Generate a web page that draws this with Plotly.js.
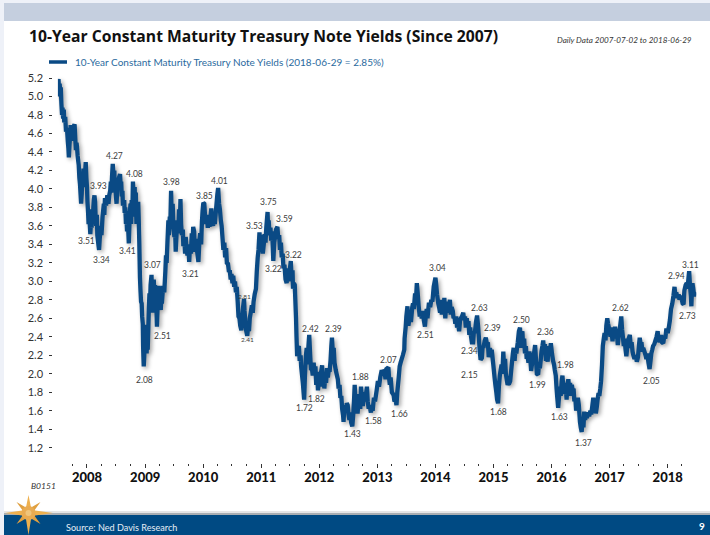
<!DOCTYPE html>
<html>
<head>
<meta charset="utf-8">
<script src="https://cdn.plot.ly/plotly-3.0.1.min.js"></script>
<style>html,body{margin:0;padding:0;background:#fff;overflow:hidden}#chart{width:710px;height:535px}</style>
</head>
<body>
<div id="chart"></div>
<script>
// Yield readings by calendar year: [fraction of year, yield in percent]
const y2007 = [[.50,5.00],[.505,5.12],[.51,5.19],[.52,5.05],[.53,5.14],[.54,5.03],[.55,5.10],[.56,4.92],[.57,4.80],[.58,4.88],[.59,4.76],[.60,4.86],[.61,4.72],[.625,4.78],[.64,4.62],[.655,4.66],[.67,4.52],[.68,4.44],[.69,4.34],[.70,4.48],[.71,4.58],[.72,4.69],[.73,4.52],[.745,4.62],[.76,4.55],[.775,4.68],[.787,4.70],[.80,4.52],[.81,4.42],[.82,4.50],[.83,4.46],[.84,4.36],[.85,4.30],[.86,4.26],[.87,4.12],[.88,4.05],[.89,3.96],[.90,3.84],[.91,3.95],[.92,4.10],[.93,4.02],[.94,4.22],[.95,4.14],[.96,4.02],[.97,4.20],[.98,4.29],[.99,4.12]];
const y2008 = [[.00,4.02],[.01,3.86],[.02,3.74],[.03,3.62],[.04,3.78],[.05,3.60],[.06,3.51],[.07,3.64],[.08,3.58],[.09,3.74],[.10,3.62],[.11,3.80],[.12,3.88],[.13,3.93],[.14,3.86],[.15,3.70],[.16,3.60],[.17,3.72],[.18,3.50],[.19,3.44],[.20,3.38],[.21,3.34],[.22,3.46],[.24,3.60],[.25,3.50],[.27,3.70],[.29,3.84],[.30,3.72],[.31,3.90],[.33,3.82],[.35,3.93],[.37,3.84],[.385,3.93],[.40,3.98],[.41,4.08],[.42,3.96],[.43,4.12],[.445,4.27],[.46,4.12],[.47,4.20],[.48,3.98],[.49,4.02],[.50,3.90],[.51,3.84],[.52,3.98],[.53,4.06],[.55,4.12],[.57,4.16],[.58,4.02],[.59,4.08],[.60,3.92],[.61,3.98],[.62,3.82],[.64,3.88],[.65,3.74],[.66,3.80],[.67,3.62],[.68,3.70],[.69,3.54],[.70,3.76],[.71,3.58],[.72,3.41],[.73,3.62],[.74,3.76],[.75,3.84],[.76,3.62],[.77,3.88],[.78,3.72],[.79,4.08],[.80,3.98],[.81,3.70],[.82,4.02],[.83,3.78],[.84,3.96],[.85,3.62],[.86,3.84],[.87,3.72],[.88,3.86],[.89,3.70],[.90,3.42],[.91,3.05],[.92,2.92],[.93,2.78],[.94,2.76],[.95,2.62],[.96,2.54],[.965,2.30],[.97,2.18],[.976,2.08],[.985,2.18],[.995,2.40]];
const y2009 = [[.005,2.53],[.015,2.30],[.025,2.22],[.035,2.36],[.045,2.26],[.056,2.51],[.065,2.70],[.075,2.87],[.085,2.78],[.095,2.96],[.11,3.07],[.12,2.78],[.125,2.66],[.135,2.86],[.15,3.02],[.16,2.82],[.17,2.96],[.18,2.74],[.19,2.84],[.205,2.51],[.215,2.72],[.225,2.90],[.235,2.95],[.25,2.80],[.27,2.69],[.28,2.84],[.29,2.76],[.31,2.95],[.33,2.88],[.35,3.11],[.36,3.28],[.37,3.20],[.385,3.42],[.40,3.66],[.41,3.50],[.425,3.70],[.435,3.60],[.447,3.98],[.46,3.70],[.475,3.84],[.49,3.58],[.505,3.48],[.52,3.52],[.527,3.32],[.54,3.50],[.555,3.66],[.57,3.52],[.585,3.78],[.60,3.68],[.61,3.89],[.62,3.62],[.635,3.50],[.65,3.56],[.66,3.38],[.675,3.48],[.69,3.30],[.70,3.48],[.715,3.36],[.73,3.28],[.745,3.40],[.76,3.21],[.775,3.40],[.79,3.30],[.805,3.52],[.82,3.44],[.83,3.59],[.845,3.54],[.86,3.32],[.875,3.46],[.89,3.36],[.905,3.28],[.92,3.21],[.935,3.44],[.95,3.52],[.965,3.40],[.98,3.64],[.99,3.76]];
const y2010 = [[.005,3.85],[.02,3.84],[.035,3.70],[.05,3.62],[.065,3.72],[.08,3.58],[.095,3.66],[.11,3.59],[.125,3.68],[.14,3.79],[.155,3.64],[.17,3.60],[.185,3.68],[.20,3.62],[.215,3.72],[.23,3.82],[.245,3.94],[.26,4.01],[.275,3.84],[.29,3.78],[.305,3.66],[.32,3.60],[.335,3.46],[.35,3.34],[.365,3.42],[.38,3.26],[.395,3.36],[.41,3.20],[.43,3.19],[.445,3.10],[.46,3.12],[.475,3.02],[.49,3.08],[.505,2.98],[.52,3.06],[.535,2.94],[.55,3.00],[.565,2.88],[.58,2.94],[.595,2.78],[.61,2.62],[.625,2.60],[.64,2.52],[.66,2.47],[.675,2.60],[.69,2.72],[.705,2.81],[.715,2.68],[.73,2.54],[.745,2.46],[.76,2.41],[.775,2.50],[.79,2.46],[.805,2.60],[.82,2.66],[.84,2.74],[.855,2.66],[.87,2.78],[.89,2.86],[.91,2.92],[.925,3.10],[.94,3.26],[.955,3.34],[.97,3.53],[.985,3.44]];
const y2011 = [[.00,3.36],[.015,3.50],[.03,3.30],[.045,3.40],[.06,3.51],[.075,3.42],[.09,3.58],[.11,3.75],[.12,3.58],[.13,3.66],[.145,3.50],[.16,3.58],[.175,3.44],[.19,3.54],[.21,3.22],[.225,3.42],[.24,3.48],[.255,3.56],[.28,3.59],[.295,3.46],[.31,3.50],[.325,3.34],[.34,3.42],[.355,3.26],[.37,3.30],[.385,3.14],[.40,3.18],[.42,3.02],[.44,2.98],[.455,3.14],[.47,3.00],[.49,3.10],[.51,3.22],[.525,3.04],[.54,3.12],[.55,2.92],[.565,2.98],[.58,2.96],[.60,2.60],[.61,2.40],[.62,2.19],[.635,2.28],[.65,2.30],[.665,2.14],[.68,2.20],[.69,2.08],[.705,1.98],[.72,1.90],[.74,1.72],[.755,1.98],[.77,2.19],[.785,2.28],[.80,2.10],[.815,2.30],[.83,2.42],[.845,2.20],[.86,2.04],[.875,2.06],[.89,1.98],[.905,2.12],[.92,2.00],[.935,2.08],[.95,1.88],[.965,2.02],[.98,1.82]];
const y2012 = [[.00,1.96],[.015,1.86],[.035,2.02],[.05,2.09],[.065,1.92],[.08,2.00],[.09,1.84],[.105,1.98],[.12,1.90],[.135,2.06],[.15,1.96],[.165,2.04],[.18,2.02],[.195,2.14],[.21,2.30],[.22,2.39],[.235,2.22],[.25,2.28],[.265,2.12],[.285,2.04],[.30,2.00],[.32,1.94],[.335,1.84],[.35,1.88],[.365,1.74],[.38,1.76],[.395,1.62],[.41,1.55],[.42,1.48],[.43,1.62],[.445,1.66],[.46,1.58],[.475,1.68],[.49,1.66],[.505,1.56],[.52,1.50],[.535,1.58],[.55,1.47],[.57,1.43],[.585,1.56],[.60,1.72],[.61,1.88],[.625,1.70],[.64,1.76],[.66,1.57],[.675,1.70],[.69,1.78],[.705,1.62],[.72,1.86],[.735,1.72],[.75,1.65],[.77,1.80],[.785,1.70],[.80,1.75],[.82,1.86],[.835,1.70],[.85,1.62],[.865,1.66],[.89,1.58],[.905,1.66],[.92,1.60],[.94,1.74],[.96,1.70],[.99,1.83]];
const y2013 = [[.01,1.92],[.03,1.86],[.05,1.96],[.075,2.04],[.09,1.98],[.10,2.04],[.125,2.02],[.14,1.94],[.155,2.05],[.19,2.07],[.20,1.96],[.215,1.88],[.23,1.96],[.25,1.80],[.28,1.77],[.295,1.70],[.315,1.72],[.33,1.66],[.345,1.80],[.365,1.94],[.385,2.08],[.40,2.12],[.42,2.16],[.44,2.20],[.465,2.26],[.47,2.38],[.49,2.51],[.50,2.62],[.52,2.73],[.535,2.52],[.55,2.58],[.565,2.62],[.58,2.56],[.60,2.72],[.615,2.76],[.63,2.70],[.65,2.87],[.665,2.78],[.68,2.98],[.695,2.88],[.71,2.74],[.73,2.62],[.75,2.66],[.765,2.60],[.78,2.68],[.80,2.58],[.82,2.51],[.835,2.62],[.85,2.70],[.865,2.60],[.89,2.77],[.91,2.72],[.93,2.80],[.95,2.78],[.97,2.94]];
const y2014 = [[.00,3.04],[.015,2.96],[.03,2.86],[.05,2.76],[.065,2.72],[.08,2.66],[.095,2.80],[.11,2.64],[.125,2.76],[.14,2.68],[.155,2.82],[.17,2.60],[.185,2.74],[.20,2.66],[.22,2.78],[.235,2.70],[.25,2.80],[.265,2.64],[.28,2.72],[.30,2.68],[.315,2.60],[.33,2.62],[.345,2.54],[.36,2.62],[.375,2.50],[.39,2.56],[.41,2.46],[.425,2.58],[.44,2.60],[.46,2.62],[.48,2.66],[.495,2.58],[.51,2.62],[.525,2.50],[.54,2.60],[.555,2.52],[.57,2.57],[.585,2.42],[.60,2.50],[.615,2.40],[.63,2.34],[.65,2.34],[.665,2.46],[.68,2.44],[.70,2.56],[.72,2.63],[.735,2.52],[.75,2.40],[.765,2.24],[.78,2.15],[.80,2.17],[.815,2.30],[.83,2.28],[.85,2.36],[.87,2.39],[.89,2.32],[.905,2.34],[.92,2.18],[.94,2.28],[.955,2.20],[.97,2.26]];
const y2015 = [[.00,2.08],[.02,1.96],[.035,1.88],[.05,1.80],[.065,1.72],[.08,1.68],[.095,1.86],[.11,1.98],[.125,2.04],[.14,2.10],[.155,2.00],[.17,2.24],[.185,2.06],[.20,2.16],[.215,2.00],[.23,1.94],[.245,1.88],[.26,1.90],[.275,1.90],[.29,1.92],[.31,2.06],[.335,2.22],[.35,2.28],[.365,2.14],[.38,2.26],[.395,2.22],[.42,2.34],[.44,2.46],[.46,2.50],[.475,2.28],[.485,2.44],[.50,2.46],[.515,2.28],[.53,2.38],[.545,2.22],[.56,2.30],[.575,2.16],[.59,2.20],[.605,2.12],[.62,2.24],[.635,2.18],[.65,2.03],[.665,2.10],[.68,2.16],[.70,2.22],[.72,2.31],[.735,2.14],[.75,2.00],[.77,1.99],[.785,2.10],[.80,2.06],[.815,2.14],[.83,2.24],[.845,2.30],[.86,2.36],[.875,2.22],[.89,2.32],[.905,2.14],[.92,2.26],[.935,2.13],[.95,2.30],[.97,2.24],[.99,2.33]];
const y2016 = [[.01,2.22],[.03,2.14],[.045,2.10],[.06,2.04],[.075,1.98],[.09,1.84],[.10,1.75],[.115,1.63],[.13,1.74],[.145,1.86],[.16,1.76],[.175,1.92],[.19,1.98],[.205,1.84],[.22,1.90],[.235,1.78],[.25,1.84],[.26,1.72],[.275,1.88],[.29,1.94],[.305,1.84],[.32,1.90],[.335,1.76],[.35,1.88],[.365,1.82],[.38,1.84],[.395,1.70],[.41,1.74],[.425,1.60],[.44,1.70],[.455,1.74],[.47,1.66],[.49,1.48],[.505,1.42],[.52,1.37],[.535,1.50],[.55,1.42],[.565,1.59],[.58,1.50],[.595,1.58],[.61,1.52],[.63,1.58],[.65,1.54],[.67,1.60],[.685,1.56],[.70,1.64],[.72,1.74],[.735,1.62],[.75,1.72],[.765,1.57],[.78,1.64],[.795,1.72],[.81,1.79],[.825,1.76],[.84,1.84],[.855,1.92],[.87,2.10],[.885,2.30],[.90,2.38],[.915,2.44],[.93,2.36],[.945,2.52],[.96,2.60],[.975,2.54]];
const y2017 = [[.00,2.46],[.015,2.40],[.03,2.50],[.05,2.35],[.065,2.46],[.08,2.40],[.095,2.51],[.11,2.38],[.125,2.46],[.14,2.31],[.16,2.44],[.18,2.50],[.20,2.62],[.215,2.48],[.23,2.40],[.245,2.30],[.26,2.38],[.275,2.26],[.29,2.19],[.305,2.30],[.32,2.36],[.35,2.42],[.365,2.28],[.38,2.34],[.395,2.24],[.41,2.20],[.43,2.16],[.45,2.20],[.47,2.13],[.49,2.18],[.505,2.30],[.52,2.39],[.535,2.32],[.55,2.34],[.565,2.24],[.58,2.28],[.60,2.24],[.62,2.20],[.635,2.16],[.65,2.22],[.67,2.12],[.69,2.05],[.705,2.14],[.72,2.22],[.735,2.26],[.75,2.30],[.77,2.32],[.79,2.36],[.81,2.40],[.83,2.46],[.845,2.34],[.86,2.40],[.875,2.34],[.89,2.42],[.905,2.34],[.925,2.33],[.94,2.40],[.96,2.38],[.98,2.49]];
const y2018 = [[.00,2.44],[.02,2.50],[.04,2.58],[.06,2.70],[.08,2.76],[.10,2.84],[.12,2.94],[.135,2.84],[.15,2.88],[.17,2.82],[.19,2.86],[.205,2.80],[.22,2.84],[.24,2.82],[.26,2.76],[.275,2.75],[.29,2.90],[.31,2.96],[.33,2.98],[.345,2.92],[.36,3.04],[.37,3.11],[.385,2.96],[.40,2.84],[.41,2.73],[.42,2.92],[.43,2.98],[.445,2.90],[.46,2.84],[.475,2.87],[.495,2.85]];

// Turning points that carry a printed value, left to right by group
const turningValues = [4.27,3.93,4.08,3.98,3.85,4.01,3.75,3.59,3.53,3.22,3.51,3.41,3.34,3.07,3.22,3.21,2.81,2.41,2.51,2.08,2.42,2.39,1.82,1.72,1.43,1.88,2.07,1.58,1.66,3.04,2.51,2.63,2.39,2.34,2.15,1.68,2.50,1.99,2.36,1.98,1.63,1.37,2.62,2.05,2.94,3.11,2.73];
// Pixel centre of each printed value on the 710x535 page
const turningSpots = [[114,156],[98,186],[134,174],[171,182],[204,196],[220,181],[268,202],[284,219],[254,226],[293,255],[86,241],[127,251],[101,260],[152,265],[273,269],[191,274],[244,296],[248,339],[162,336],[144,380],[310,329],[333,329],[316,399],[304,408],[352,434],[360,377],[388,360],[373,421],[399,414],[438,268],[425,335],[479,308],[492,328],[469,351],[469,375],[499,412],[521,320],[537,385],[545,332],[565,365],[559,417],[583,443],[620,308],[651,381],[676,276],[690,265],[687,316]];
const tinyLabels = [16, 17];

const seriesName = '10-Year Constant Maturity Treasury Note Yields (2018-06-29 = 2.85%)';
const chartTitle = '10-Year Constant Maturity Treasury Note Yields (Since 2007)';
const rangeNote = 'Daily Data 2007-07-02 to 2018-06-29';
const chartCode = 'B0151';
const sourceNote = 'Source: Ned Davis Research';
const pageNumber = '9';

const W = 710, H = 535;
const px = x => x / W;
const py = y => 1 - y / H;
const BODY = 'Lato, "Open Sans", sans-serif';
const NAVY = '#0a4a85';

const byYear = [[2007,y2007],[2008,y2008],[2009,y2009],[2010,y2010],[2011,y2011],[2012,y2012],[2013,y2013],[2014,y2014],[2015,y2015],[2016,y2016],[2017,y2017],[2018,y2018]];
const dates = [], yields = [];
byYear.forEach(([yr, rows]) => rows.forEach(([f, v]) => {
  const t0 = Date.UTC(yr, 0, 1), t1 = Date.UTC(yr + 1, 0, 1);
  dates.push(new Date(t0 + f * (t1 - t0)).toISOString().slice(0, 10));
  yields.push(v);
}));

const rect = (x0, y0, x1, y1, color) => ({type:'rect', xref:'paper', yref:'paper', x0:px(x0), x1:px(x1), y0:py(y1), y1:py(y0), fillcolor:color, line:{width:0}, layer:'below'});
const poly = (pts, color) => ({type:'path', xref:'paper', yref:'paper', layer:'above', fillcolor:color, line:{width:0},
  path:'M' + pts.map(p => px(p[0]).toFixed(5) + ',' + py(p[1]).toFixed(5)).join('L') + 'Z'});

// Compass star in the footer: long cardinal points, short diagonals, round hub
const cx = 28.5, cy = 513;
const cardinal = [[cx,495],[cx+3,cy-3],[53,cy],[cx+3,cy+3],[cx,535],[cx-3,cy+3],[5,cy],[cx-3,cy-3]];
const diagonal = [[cx+12,cy-11],[cx+4,cy],[cx+12,cy+11],[cx,cy+4],[cx-12,cy+11],[cx-4,cy],[cx-12,cy-11],[cx,cy-4]];
const shapes = [
  rect(0, 0, W, H, '#eef1f8'),
  rect(4, 3, W, H, '#ffffff'),
  rect(4, 3, W, 21, '#c5cfdf'),
  rect(4, 511, W, 513, '#e6e6e6'),
  rect(4, 513, W, 515, '#a9aeb3'),
  rect(4, 515, W, H, '#004a83'),
  poly(diagonal, '#e0a040'),
  poly(cardinal, '#eeb04e'),
  {type:'circle', xref:'paper', yref:'paper', layer:'above', x0:px(cx-7), x1:px(cx+7), y0:py(cy+7), y1:py(cy-7), fillcolor:'#e9ab52', line:{width:0}},
  {type:'circle', xref:'paper', yref:'paper', layer:'above', x0:px(cx-3), x1:px(cx+3), y0:py(cy+3), y1:py(cy-3), fillcolor:'#f0c57c', line:{width:0}},
  // legend key
  {type:'line', xref:'paper', yref:'paper', layer:'above', x0:px(49), x1:px(67), y0:py(62), y1:py(62), line:{color:NAVY, width:3.5}}
];

const note = (text, x, y, anchor, font) => ({text, xref:'paper', yref:'paper', x:px(x), y:py(y), xanchor:anchor, yanchor:'middle', showarrow:false, font});
const annotations = [
  note(seriesName, 73, 62, 'left', {family:BODY, size:10, color:'#2a6a9e'}),
  note(rangeNote, 694, 40, 'right', {family:BODY, size:8.1, color:'#333333', style:'italic'}),
  note(chartCode, 29, 486, 'left', {family:BODY, size:8.5, color:'#333333', style:'italic'}),
  note(sourceNote, 64, 527, 'left', {family:BODY, size:9.1, color:'#e6edf5'}),
  note(pageNumber, 702, 526, 'center', {family:BODY, size:10, color:'#ffffff', weight:700})
].concat(turningValues.map((v, i) => note(v.toFixed(2), turningSpots[i][0], turningSpots[i][1], 'center',
  {family:BODY, size: tinyLabels.includes(i) ? 6.5 : 8.5, color:'#3c3c3c'})));

const trace = {type:'scatter', mode:'lines', x:dates, y:yields, name:seriesName, cliponaxis:false,
  line:{color:NAVY, width:4.3, simplify:false, shape:'linear'}, showlegend:false, hoverinfo:'x+y'};

const layout = {
  width:W, height:H, margin:{l:0,r:0,t:0,b:0}, paper_bgcolor:'#ffffff', plot_bgcolor:'rgba(0,0,0,0)', showlegend:false,
  title:{text:chartTitle, x:px(29), xanchor:'left', xref:'paper', y:py(37), yref:'paper', yanchor:'middle',
    font:{family:'"Open Sans", sans-serif', size:15.7, weight:700, color:'#111111'}},
  xaxis:{type:'date', domain:[px(57.9), px(696.3)], range:['2007-07-02','2018-06-30'], dtick:'M12', tick0:'2008-01-01', tickformat:'%Y',
    ticks:'outside', ticklen:4, tickwidth:1, tickcolor:'#333333', showgrid:false, zeroline:false, showline:false,
    ticklabelstandoff:-2, tickfont:{family:BODY, size:13, weight:900, color:'#111111'},
    minor:{dtick:'M3', tick0:'2007-10-01', ticks:'outside', ticklen:2, tickwidth:1, tickcolor:'#333333', showgrid:false}},
  yaxis:{domain:[py(463), py(70)], range:[1.034,5.287], anchor:'free', position:px(52.3), tick0:1.2, dtick:0.2, tickformat:'.1f',
    ticks:'outside', ticklen:3, tickwidth:1, tickcolor:'#333333', showgrid:false, zeroline:false, showline:false,
    ticklabelstandoff:4, tickfont:{family:BODY, size:11, color:'#333333'}},
  shapes, annotations
};

Plotly.newPlot('chart', [trace], layout, {displayModeBar:false, staticPlot:true}).then(() => {
  document.querySelectorAll('.scatterlayer .js-line').forEach(p => {
    p.style.filter = 'drop-shadow(2px 2px 2px rgba(0,0,0,0.35))';
  });
});
</script>
</body>
</html>
